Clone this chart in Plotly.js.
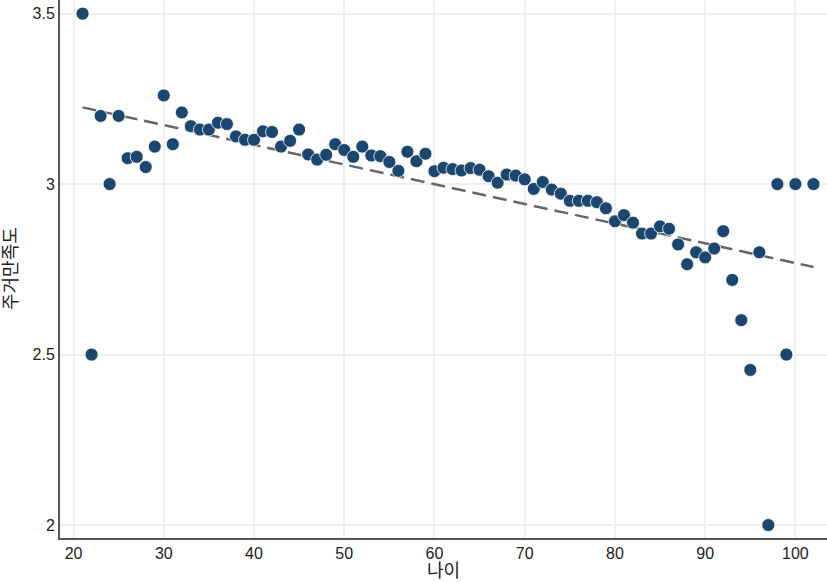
<!DOCTYPE html>
<html>
<head>
<meta charset="utf-8">
<script src="https://cdn.plot.ly/plotly-3.0.1.min.js"></script>
<style>html,body{margin:0;padding:0;background:#fff;}#chart{width:827px;height:582px;}</style>
</head>
<body>
<div id="chart"></div>
<script>
const ages = [21,22,23,24,25,26,27,28,29,30,31,32,33,34,35,36,37,38,39,40,41,42,43,44,45,46,47,48,49,50,51,52,53,54,55,56,57,58,59,60,61,62,63,64,65,66,67,68,69,70,71,72,73,74,75,76,77,78,79,80,81,82,83,84,85,86,87,88,89,90,91,92,93,94,95,96,97,98,99,100,102];
const satisfaction = [3.5,2.5,3.2,3.0,3.2,3.076,3.08,3.05,3.11,3.26,3.117,3.21,3.17,3.16,3.16,3.18,3.176,3.14,3.13,3.13,3.155,3.153,3.11,3.127,3.16,3.087,3.072,3.086,3.117,3.1,3.08,3.11,3.084,3.082,3.065,3.039,3.095,3.067,3.089,3.038,3.048,3.044,3.040,3.047,3.042,3.023,3.004,3.028,3.025,3.014,2.986,3.006,2.984,2.972,2.951,2.951,2.951,2.947,2.929,2.891,2.909,2.887,2.855,2.855,2.876,2.869,2.823,2.765,2.8,2.785,2.811,2.862,2.719,2.601,2.455,2.8,2.0,3.0,2.5,3.0,3.0];
const trendX = [21,102];
const trendY = [3.225,2.757];
const xTicks = [20,30,40,50,60,70,80,90,100];
const yTicks = [2,2.5,3,3.5];
const yTickText = ['2','2.5','3','3.5'];
const xTitle = '나이';
const yTitle = '주거만족도';

const font = {family:'Liberation Sans, Arial, sans-serif', size:16, color:'#222'};
const titleFont = {family:'Liberation Sans, Noto Sans CJK KR, sans-serif', size:18, color:'#222'};
const data = [
  {x:trendX, y:trendY, type:'scatter', mode:'lines', line:{color:'#666666', width:2.5, dash:'14px,7px'}, hoverinfo:'skip', showlegend:false},
  {x:ages, y:satisfaction, type:'scatter', mode:'markers', marker:{color:'#1a4670', size:13, line:{color:'#ffffff', width:0.8}}, showlegend:false}
];
const layout = {
  width:827, height:582,
  margin:{l:60, r:0, t:0, b:44},
  paper_bgcolor:'#fff', plot_bgcolor:'#fff',
  font:font,
  xaxis:{range:[18.5,103.5], tickvals:xTicks, ticks:'', showgrid:true, gridcolor:'#efefef', gridwidth:2,
    zeroline:false, showline:true, linecolor:'#555', linewidth:2, tickfont:font, automargin:false, ticklabelstandoff:0},
  yaxis:{range:[1.962,3.54], tickvals:yTicks, ticktext:yTickText, ticks:'', showgrid:true, gridcolor:'#efefef', gridwidth:2,
    zeroline:false, showline:true, linecolor:'#555', linewidth:2, tickfont:font, automargin:false},
  annotations:[
    {text:xTitle, xref:'paper', yref:'paper', x:0.5, y:0, yshift:-44, xanchor:'center', yanchor:'bottom', showarrow:false, font:titleFont, borderpad:0},
    {text:yTitle, xref:'paper', yref:'paper', x:0, y:0.5, xshift:-60, xanchor:'left', yanchor:'middle', textangle:-90, showarrow:false, font:titleFont, borderpad:0}
  ]
};
Plotly.newPlot('chart', data, layout, {displayModeBar:false, staticPlot:true});
</script>
</body>
</html>
